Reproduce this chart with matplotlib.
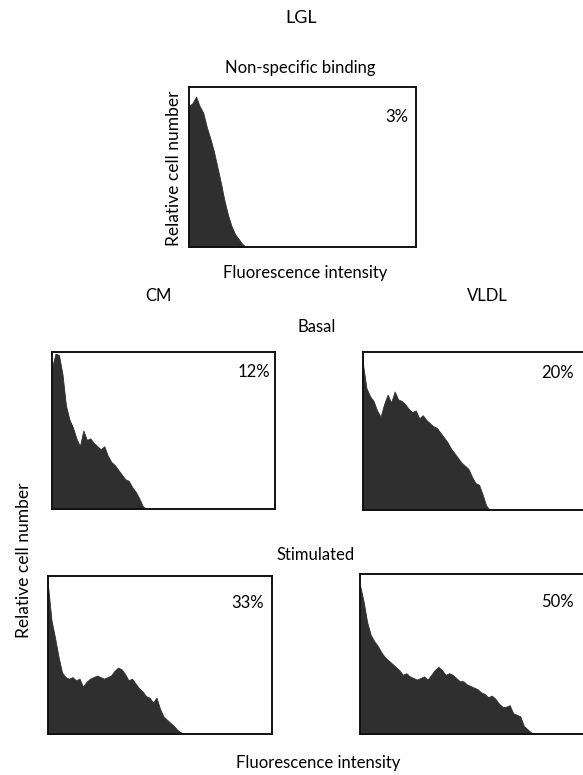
import numpy as np
import matplotlib
matplotlib.use('Agg')
import matplotlib.pyplot as plt

plt.rcParams['font.family'] = ['Lato', 'DejaVu Sans']

# histogram heights (fraction of full scale), channels of width 4 on a 0-256 scale
nsb = [0.88, 0.90, 0.94, 0.88, 0.84, 0.75, 0.68, 0.60, 0.50, 0.40, 0.29,
       0.20, 0.13, 0.08, 0.05, 0.02]
cm_basal = [0.90, 0.99, 0.98, 0.86, 0.66, 0.57, 0.52, 0.45, 0.40, 0.50,
            0.44, 0.45, 0.42, 0.40, 0.38, 0.40, 0.34, 0.30, 0.28, 0.25,
            0.22, 0.19, 0.18, 0.14, 0.11, 0.07, 0.02]
vldl_basal = [0.92, 0.77, 0.72, 0.69, 0.63, 0.59, 0.67, 0.73, 0.68, 0.75,
              0.70, 0.69, 0.67, 0.64, 0.62, 0.63, 0.58, 0.60, 0.57, 0.55,
              0.53, 0.52, 0.49, 0.46, 0.43, 0.39, 0.36, 0.33, 0.30, 0.28,
              0.26, 0.21, 0.17, 0.16, 0.10, 0.03]
cm_stim = [0.94, 0.72, 0.61, 0.49, 0.39, 0.36, 0.35, 0.36, 0.34, 0.35,
           0.30, 0.33, 0.35, 0.36, 0.37, 0.36, 0.35, 0.36, 0.37, 0.40,
           0.42, 0.41, 0.38, 0.34, 0.35, 0.32, 0.29, 0.27, 0.24, 0.23,
           0.20, 0.23, 0.16, 0.11, 0.09, 0.07, 0.05, 0.025, 0.01]
vldl_stim = [0.93, 0.83, 0.70, 0.62, 0.58, 0.55, 0.51, 0.48, 0.46, 0.44,
             0.42, 0.40, 0.37, 0.38, 0.36, 0.35, 0.34, 0.35, 0.36, 0.34,
             0.37, 0.40, 0.42, 0.40, 0.37, 0.38, 0.37, 0.35, 0.33, 0.33,
             0.31, 0.30, 0.29, 0.28, 0.26, 0.25, 0.23, 0.24, 0.22, 0.19,
             0.17, 0.17, 0.18, 0.13, 0.12, 0.11, 0.05, 0.03, 0.01]

W, H = 583, 775
fig = plt.figure(figsize=(W / 100, H / 100), dpi=100)
fig.patch.set_facecolor('white')


def panel(x0, y0, x1, y1, vals, pct, px, py):
    ax = fig.add_axes([x0 / W, 1 - y1 / H, (x1 - x0) / W, (y1 - y0) / H])
    h = np.append(vals, 0.0)
    x = np.arange(len(h)) * 4.0
    ax.fill_between(x, 0, h, color='#2f2f2f', lw=0.6, edgecolor='#2f2f2f')
    ax.set_xlim(0, 256)
    ax.set_ylim(0, 1)
    ax.set_xticks([])
    ax.set_yticks([])
    for s in ax.spines.values():
        s.set_linewidth(1.4)
        s.set_color('#111111')
    fig.text(px / W, 1 - py / H, pct, ha='center', va='center', fontsize=12)
    return ax


def label(x, y, s, size=12, rot=0):
    fig.text(x / W, 1 - y / H, s, ha='center', va='center',
             fontsize=size, rotation=rot)


panel(189, 87, 416, 247, nsb, '3%', 397, 117)
panel(52, 352, 275, 509, cm_basal, '12%', 254, 372)
panel(363, 352, 588, 510, vldl_basal, '20%', 558, 373)
panel(48, 576, 272, 734, cm_stim, '33%', 248, 603)
panel(360, 574, 588, 734, vldl_stim, '50%', 557, 602)

label(301, 18, 'LGL', size=13)
label(300, 68, 'Non-specific binding')
label(174, 168, 'Relative cell number', size=12.5, rot=90)
label(305, 273, 'Fluorescence intensity')
label(158, 296, 'CM')
label(487, 296, 'VLDL')
label(317, 327, 'Basal')
label(24, 560, 'Relative cell number', size=12.5, rot=90)
label(316, 555, 'Stimulated')
label(318, 763, 'Fluorescence intensity')

fig.savefig('out.png', dpi=100)
